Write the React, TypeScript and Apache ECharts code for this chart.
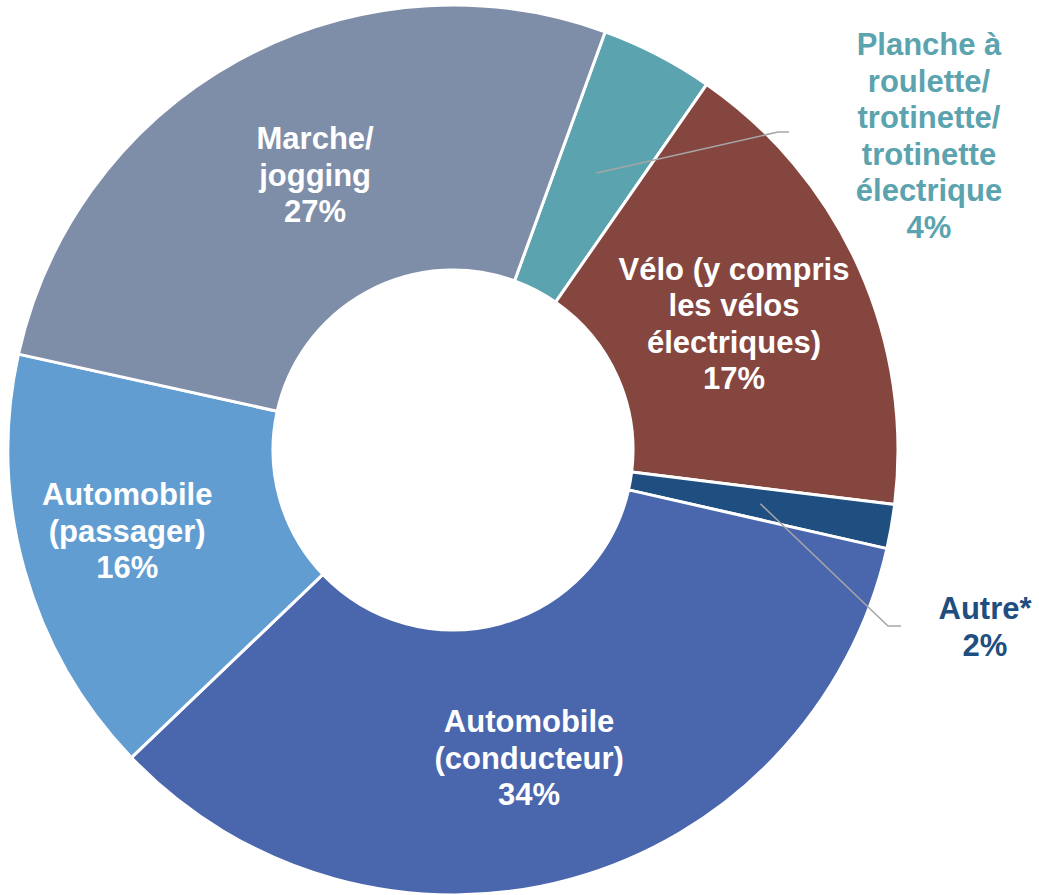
import React, { useEffect, useRef } from "react";
import * as echarts from "echarts";

const categories = [
  "Planche à roulette/ trotinette/ trotinette électrique",
  "Vélo (y compris les vélos électriques)",
  "Autre*",
  "Automobile (conducteur)",
  "Automobile (passager)",
  "Marche/ jogging",
];
const labelTexts = [
  "Planche à\nroulette/\ntrotinette/\ntrotinette\nélectrique",
  "Vélo (y compris\nles vélos\nélectriques)",
  "Autre*",
  "Automobile\n(conducteur)",
  "Automobile\n(passager)",
  "Marche/\njogging",
];
const values = [4.1, 17.3, 1.6, 34.3, 15.6, 27.1];
const colors = ["#5BA3AE", "#85463F", "#1F4E80", "#4A66AD", "#619DD1", "#7F8EA8"];
const outsideIdx = [0, 2];

// layout (pixel positions of the outside labels and their leader lines)
const CENTER = [453, 450];
const START_ANGLE = 70;
const INNER_R = 180;
const MID_R = 312;
const OUTER_R = 445;
const outsideLayout: Record<number, { x: number; y: number; bendX: number; endX: number; lineY: number }> = {
  0: { x: 929, y: 136, bendX: 778, endX: 789, lineY: 132 },
  2: { x: 985, y: 627, bendX: 888, endX: 901, lineY: 626 },
};
const insideOffsets: Record<number, number[]> = {
  1: [-7, 3],
  3: [-8, 4],
  4: [-22, -4],
  5: [14, 2],
};

const FONT = "'Liberation Sans', Arial, Helvetica, sans-serif";

function midPoint(idx: number): number[] {
  const total = values.reduce((a, b) => a + b, 0);
  let before = 0;
  for (let i = 0; i < idx; i++) before += values[i];
  const frac = (before + values[idx] / 2) / total;
  const a = ((START_ANGLE - 360 * frac) * Math.PI) / 180;
  return [CENTER[0] + MID_R * Math.cos(a), CENTER[1] - MID_R * Math.sin(a)];
}

export default function App() {
  const ref = useRef<HTMLDivElement>(null);
  useEffect(() => {
    document.body.style.margin = "0";
    const chart = echarts.init(ref.current!, null, { renderer: "svg" });
    const mainData = categories.map((name, i) => {
      const outside = outsideIdx.includes(i);
      return {
        name,
        value: values[i],
        itemStyle: { color: colors[i] },
        label: outside
          ? { show: false }
          : { show: true, offset: insideOffsets[i] || [0, 0] },
      };
    });
    const ghostData = categories.map((name, i) => {
      const outside = outsideIdx.includes(i);
      return {
        name,
        value: values[i],
        label: outside ? { show: true, color: colors[i] } : { show: false },
        labelLine: { show: outside },
      };
    });
    const fmt = (p: any) => `${labelTexts[p.dataIndex]}\n${Math.round(p.percent)}%`;
    const labelFont = {
      fontFamily: FONT,
      fontWeight: "bold",
      fontSize: 31,
      lineHeight: 36.5,
      align: "center",
    };
    chart.setOption({
      animation: false,
      backgroundColor: "#ffffff",
      series: [
        {
          type: "pie",
          z: 2,
          center: CENTER,
          radius: [INNER_R, OUTER_R],
          startAngle: START_ANGLE,
          clockwise: true,
          avoidLabelOverlap: false,
          percentPrecision: 0,
          silent: true,
          itemStyle: { borderColor: "#ffffff", borderWidth: 3 },
          label: {
            show: true,
            position: "inside",
            formatter: fmt,
            color: "#ffffff",
            ...labelFont,
          },
          labelLine: { show: false },
          emphasis: { disabled: true },
          data: mainData,
        },
        {
          type: "pie",
          z: 5,
          center: CENTER,
          radius: [INNER_R, MID_R],
          startAngle: START_ANGLE,
          clockwise: true,
          avoidLabelOverlap: false,
          percentPrecision: 0,
          silent: true,
          itemStyle: { color: "rgba(0,0,0,0)", borderWidth: 0 },
          label: {
            position: "outside",
            formatter: fmt,
            ...labelFont,
          },
          labelLine: {
            show: true,
            length: 20,
            length2: 10,
            lineStyle: { color: "#A6A6A6", width: 1.5 },
          },
          labelLayout: (params: any) => {
            if (params.seriesIndex !== 1) return {};
            const L = outsideLayout[params.dataIndex];
            if (!L) return {};
            const start = midPoint(params.dataIndex);
            return {
              x: L.x,
              y: L.y,
              align: "center",
              verticalAlign: "middle",
              labelLinePoints: [start, [L.bendX, L.lineY], [L.endX, L.lineY]],
            };
          },
          emphasis: { disabled: true },
          data: ghostData,
        },
      ],
    });
    return () => chart.dispose();
  }, []);
  return <div ref={ref} style={{ width: 1039, height: 895 }} />;
}
